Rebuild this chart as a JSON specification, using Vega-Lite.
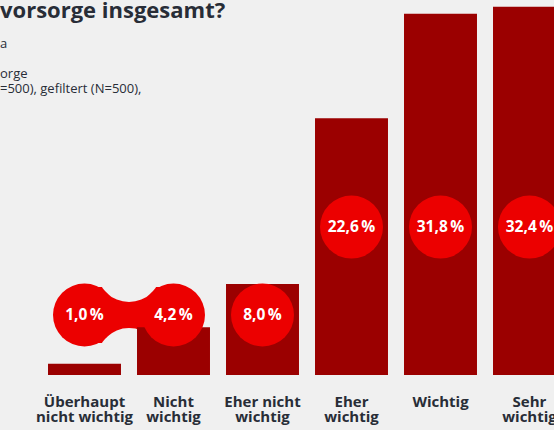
{
  "$schema": "https://vega.github.io/schema/vega-lite/v6.json",
  "width": 534,
  "height": 375,
  "autosize": {"type": "none"},
  "padding": {"left": 40, "top": 0, "right": 0, "bottom": 55},
  "background": "#f0f0f0",
  "title": {
    "text": "vorsorge insgesamt?",
    "subtitle": ["a", "\u200b", "orge", "=500), gefiltert (N=500),"],
    "anchor": "start",
    "frame": "group",
    "dx": -40,
    "dy": 101,
    "font": "Open Sans",
    "fontSize": 22,
    "fontWeight": "bold",
    "color": "#282d37",
    "subtitleFont": "Open Sans",
    "subtitleFontSize": 13,
    "subtitleColor": "#282d37",
    "subtitleLineHeight": 15,
    "subtitlePadding": 15
  },
  "data": {
    "values": [
      {"cat": "Überhaupt\nnicht wichtig", "value": 1.0, "label": "1,0\u2009%"},
      {"cat": "Nicht\nwichtig", "value": 4.2, "label": "4,2\u2009%"},
      {"cat": "Eher nicht\nwichtig", "value": 8.0, "label": "8,0\u2009%"},
      {"cat": "Eher\nwichtig", "value": 22.6, "label": "22,6\u2009%"},
      {"cat": "Wichtig", "value": 31.8, "label": "31,8\u2009%"},
      {"cat": "Sehr\nwichtig", "value": 32.4, "label": "32,4\u2009%"}
    ]
  },
  "encoding": {
    "x": {
      "field": "cat",
      "type": "nominal",
      "sort": null,
      "scale": {"paddingInner": 0.18, "paddingOuter": 0.09},
      "axis": {
        "title": null,
        "ticks": false,
        "domain": false,
        "labelAngle": 0,
        "labelExpr": "split(datum.label, '\\n')",
        "labelFont": "Open Sans",
        "labelFontSize": 15,
        "labelFontWeight": "bold",
        "labelColor": "#282d37",
        "labelLineHeight": 15.5,
        "labelBaseline": "top",
        "labelPadding": 19,
        "labelOverlap": false,
        "labelBound": false,
        "labelFlush": false,
        "labelLimit": 0
      }
    }
  },
  "layer": [
    {
      "transform": [{"filter": "datum.value < 5"}],
      "mark": {"type": "line", "color": "#ec0000", "strokeWidth": 56, "strokeCap": "butt"},
      "encoding": {"y": {"datum": 5.28, "type": "quantitative", "scale": {"domain": [0, 33], "nice": false}, "axis": null}}
    },
    {
      "transform": [{"filter": "datum.value < 2"}],
      "mark": {"type": "point", "shape": "circle", "filled": true, "size": 4096, "color": "#f0f0f0", "opacity": 1},
      "encoding": {"x": {"field": "cat", "type": "nominal", "sort": null, "bandPosition": 1.11}, "y": {"datum": 9.24, "type": "quantitative"}}
    },
    {
      "transform": [{"filter": "datum.value < 2"}],
      "mark": {"type": "point", "shape": "circle", "filled": true, "size": 4096, "color": "#f0f0f0", "opacity": 1},
      "encoding": {"x": {"field": "cat", "type": "nominal", "sort": null, "bandPosition": 1.11}, "y": {"datum": 1.32, "type": "quantitative"}}
    },
    {
      "mark": {"type": "bar", "color": "#9b0000"},
      "encoding": {
        "y": {"field": "value", "type": "quantitative"}
      }
    },
    {
      "transform": [{"filter": "datum.value < 10"}],
      "mark": {"type": "point", "shape": "circle", "filled": true, "size": 3969, "color": "#ec0000", "opacity": 1},
      "encoding": {"y": {"datum": 5.28, "type": "quantitative"}}
    },
    {
      "transform": [{"filter": "datum.value >= 10"}],
      "mark": {"type": "point", "shape": "circle", "filled": true, "size": 3969, "color": "#ec0000", "opacity": 1},
      "encoding": {"y": {"datum": 13.02, "type": "quantitative"}}
    },
    {
      "transform": [{"filter": "datum.value < 10"}],
      "mark": {"type": "text", "color": "#ffffff", "font": "Open Sans", "fontSize": 15.5, "fontWeight": "bold", "baseline": "middle", "align": "center"},
      "encoding": {"y": {"datum": 5.28, "type": "quantitative"}, "text": {"field": "label"}}
    },
    {
      "transform": [{"filter": "datum.value >= 10"}],
      "mark": {"type": "text", "color": "#ffffff", "font": "Open Sans", "fontSize": 15.5, "fontWeight": "bold", "baseline": "middle", "align": "center"},
      "encoding": {"y": {"datum": 13.02, "type": "quantitative"}, "text": {"field": "label"}}
    }
  ],
  "config": {"view": {"stroke": null}}
}
